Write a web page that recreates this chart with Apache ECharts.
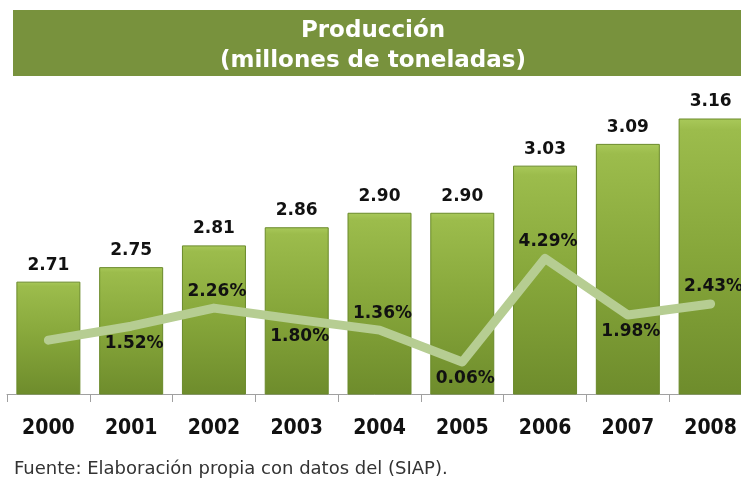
<!DOCTYPE html>
<html>
<head>
<meta charset="utf-8">
<script src="https://cdn.jsdelivr.net/npm/echarts@6/dist/echarts.min.js"></script>
<style>
    html, body { margin: 0; padding: 0; background: #fff; }
    #chart { width: 741px; height: 479px; }
</style>
</head>
<body>
<div id="chart"></div>
<script>
// datos
var years = ['2000', '2001', '2002', '2003', '2004', '2005', '2006', '2007', '2008'];
var produccion = [2.71, 2.75, 2.81, 2.86, 2.90, 2.90, 3.03, 3.09, 3.16];
var crecimiento = [0.95, 1.52, 2.26, 1.80, 1.36, 0.06, 4.29, 1.98, 2.43];
var titulo = 'Producción\n(millones de toneladas)';
var fuente = 'Fuente: Elaboración propia con datos del (SIAP).';

var chart = echarts.init(document.getElementById('chart'));

// etiquetas de la linea: la primera no lleva, luego abajo / arriba
var lineData = [];
for (var i = 0; i < crecimiento.length; i++) {
    var item = { value: crecimiento[i] };
    if (i == 0) {
        item.label = { show: false };
    } else {
        item.label = { show: true, position: (i % 2 == 1) ? 'bottom' : 'top' };
    }
    lineData.push(item);
}

var option = {
    animation: false,
    graphic: [{
        type: 'rect',
        shape: { x: 13, y: 10, width: 730, height: 66 },
        style: { fill: '#78923d' },
        silent: true
    }, {
        type: 'text',
        x: 373,
        y: 46,
        style: {
            text: titulo,
            fill: '#fff',
            font: 'bold 23px "DejaVu Sans"',
            align: 'center',
            verticalAlign: 'middle',
            lineHeight: 30
        }
    }, {
        type: 'text',
        x: 14,
        y: 469,
        style: {
            text: fuente,
            fill: '#333',
            font: '18px "DejaVu Sans"',
            verticalAlign: 'middle'
        }
    }],
    grid: {
        left: 7,
        width: 745,
        top: 104,
        bottom: 85,
        outerBoundsMode: 'none'
    },
    xAxis: {
        type: 'category',
        data: years,
        axisLine: { onZero: false, lineStyle: { color: '#a0a0a0', width: 1 } },
        axisTick: { show: true, length: 8, lineStyle: { color: '#a0a0a0' } },
        axisLabel: {
            margin: 24,
            fontSize: 21,
            fontWeight: 'bold',
            color: '#111',
            fontFamily: '"DejaVu Sans Condensed", "DejaVu Sans", sans-serif'
        }
    },
    yAxis: [{
        type: 'value',
        min: 2.4,
        max: 3.2,
        show: false,
        splitLine: { show: false }
    }, {
        type: 'value',
        min: -1.25,
        max: 10.6,
        show: false,
        splitLine: { show: false }
    }],
    series: [{
        type: 'bar',
        data: produccion,
        barWidth: 64,
        itemStyle: {
            color: new echarts.graphic.LinearGradient(0, 0, 0, 1, [
                { offset: 0, color: '#a9c95a' },
                { offset: 0.04, color: '#9cbc4c' },
                { offset: 0.5, color: '#86a63a' },
                { offset: 1, color: '#6e8c2c' }
            ]),
            borderColor: '#6a8a2a',
            borderWidth: 1
        },
        label: {
            show: true,
            position: 'top',
            distance: 8,
            fontSize: 17,
            fontWeight: 'bold',
            color: '#111',
            fontFamily: '"DejaVu Sans"',
            formatter: function(p) { return p.value.toFixed(2); }
        }
    }, {
        type: 'line',
        yAxisIndex: 1,
        data: lineData,
        symbol: 'circle',
        symbolSize: 1,
        showSymbol: true,
        itemStyle: { color: '#b6cd92' },
        lineStyle: { color: '#b6cd92', width: 9, cap: 'round', join: 'round' },
        label: {
            show: true,
            distance: 8,
            offset: [3, 0],
            fontSize: 17,
            fontWeight: 'bold',
            color: '#111',
            fontFamily: '"DejaVu Sans"',
            formatter: function(p) { return p.value.toFixed(2) + '%'; }
        },
        z: 5
    }]
};

chart.setOption(option);
</script>
</body>
</html>
